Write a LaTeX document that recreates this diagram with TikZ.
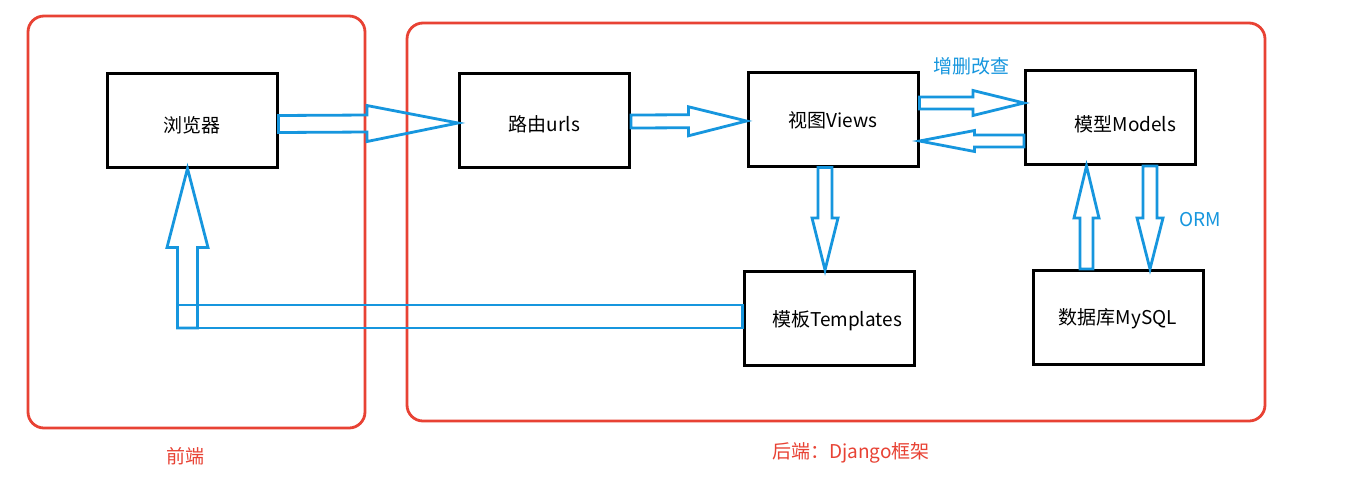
\documentclass[tikz,border=0pt]{standalone}
\usepackage{fontspec}
\setmainfont{Noto Sans CJK SC}
\usetikzlibrary{calc}
\definecolor{rd}{RGB}{232,66,52}
\definecolor{bl}{RGB}{22,150,222}
\tikzset{
  frame/.style={draw=rd, line width=2.8pt, rounded corners=16pt},
  box/.style={draw=black, line width=3pt, minimum width=170pt, minimum height=94pt, inner sep=0pt, font=\fontsize{19}{22}\selectfont},
  blk/.style={draw=bl, line width=2.8pt, line join=miter, miter limit=20},
  bltext/.style={text=bl, font=\fontsize{19}{22}\selectfont, inner sep=0pt},
  rdtext/.style={text=rd, font=\fontsize{19}{22}\selectfont, inner sep=0pt}
}
% #1 start, #2 tip, #3 shaft half width, #4 head half width, #5 head length
\newcommand\hollowarrow[5]{%
  \coordinate (hb) at ($(#2)!#5!(#1)$);
  \draw[blk] ($(#1)!#3!90:(#2)$) -- ($(hb)!#3!90:(#2)$) -- ($(hb)!#4!90:(#2)$)
    -- (#2) -- ($(hb)!#4!-90:(#2)$) -- ($(hb)!#3!-90:(#2)$) -- ($(#1)!#3!-90:(#2)$) -- cycle;
}
\newcommand\lowered[3][0pt]{\hspace*{#1}\raisebox{-#2}[\height][\depth]{#3}}
\begin{document}
\begin{tikzpicture}[x=1pt,y=-1pt]
\useasboundingbox[fill=white] (0,0) rectangle (1354,491);
% frames
\draw[frame] (28,16) rectangle (365,428);
\draw[frame] (407,23) rectangle (1265,421);
% boxes
\node[box] (browser) at (192,120) {\lowered{5pt}{浏览器}};
\node[box] (urls) at (544.5,120) {\lowered{4pt}{路由urls}};
\node[box] (views) at (833,119) {\lowered{1pt}{视图Views}};
\node[box] (models) at (1110.5,117.5) {\lowered[30pt]{7pt}{模型Models}};
\node[box] (templates) at (829,318.5) {\lowered[16pt]{2pt}{模板Templates}};
\node[box] (mysql) at (1118,317.5) {\lowered{1pt}{数据库MySQL}};
% labels
\node[bltext] (crud) at (971,66) {增删改查};
\node[bltext] (orm) at (1200,220) {ORM};
\node[rdtext] (front) at (185,456) {前端};
\node[rdtext] (back) at (851,453) {后端：Django框架};
% arrow end points
\coordinate (a1s) at ($(browser.east)+(0,4)$);
\coordinate (a1e) at ($(urls.west)+(0,3)$);
\coordinate (a2s) at ($(urls.east)+(0,1.5)$);
\coordinate (a2e) at ($(views.west)+(0,2)$);
\coordinate (a3s) at (views.east |- 0,103);
\coordinate (a3e) at (models.west |- 0,103);
\coordinate (a4s) at (models.west |- 0,141);
\coordinate (a4e) at (views.east |- 0,141);
\coordinate (a5s) at (825,0 |- views.south);
\coordinate (a5e) at (825,0 |- templates.north);
\coordinate (a6s) at (1086.5,0 |- mysql.north);
\coordinate (a6e) at (1086.5,0 |- models.south);
\coordinate (a7s) at (1150,0 |- models.south);
\coordinate (a7e) at (1150,0 |- mysql.north);
\coordinate (a8s) at (187.5,328);
\coordinate (a8e) at (187.5,0 |- browser.south);
% arrows
\hollowarrow{a1s}{a1e}{8.5pt}{18pt}{91pt}
\hollowarrow{a2s}{a2e}{6.5pt}{14.5pt}{58pt}
\hollowarrow{a3s}{a3e}{6pt}{12.5pt}{51pt}
\hollowarrow{a4s}{a4e}{6pt}{10.5pt}{55pt}
\hollowarrow{a5s}{a5e}{7pt}{13pt}{52pt}
\hollowarrow{a6s}{a6e}{6.5pt}{12.5pt}{52pt}
\hollowarrow{a7s}{a7e}{7pt}{13pt}{51pt}
\draw[blk] (177,305) rectangle (templates.west |- 0,328);
\hollowarrow{a8s}{a8e}{10pt}{20.5pt}{79pt}
\end{tikzpicture}
\end{document}
